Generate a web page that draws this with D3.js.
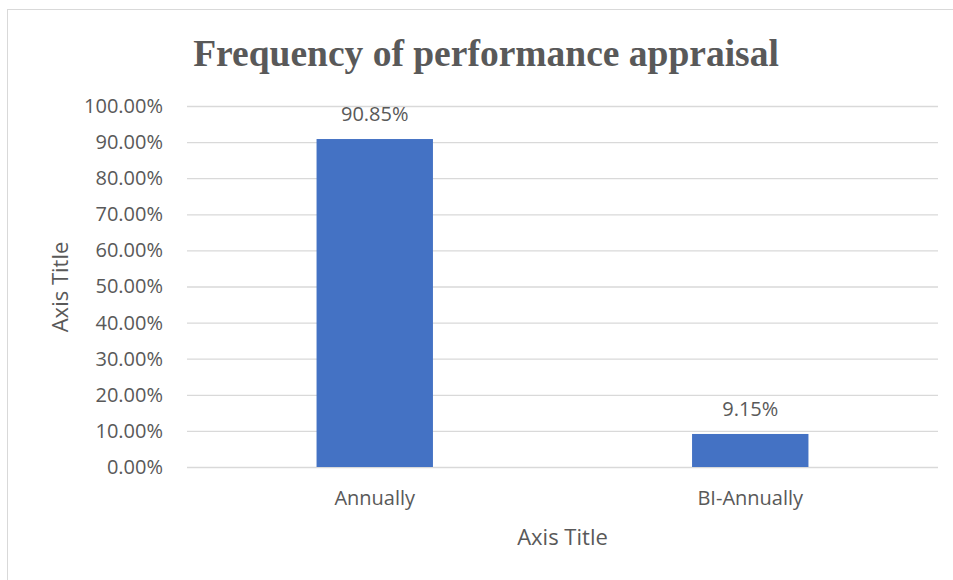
<!DOCTYPE html>
<html><head><meta charset="utf-8">
<script src="https://cdn.jsdelivr.net/npm/d3@7"></script>
<style>body{margin:0;background:#fff}svg{display:block}</style>
</head><body>
<script>
const categories = ["Annually", "BI-Annually"];
const values = [90.85, 9.15];
const yTicks = [0,10,20,30,40,50,60,70,80,90,100];
const title = "Frequency of performance appraisal";

const W = 953, H = 580;
const m = {left:187, right:15, top:106, bottom:113};
const svg = d3.select("body").append("svg").attr("width", W).attr("height", H);
svg.append("rect").attr("x",7.5).attr("y",9.5).attr("width",W).attr("height",H).attr("fill","#fff").attr("stroke","#d9d9d9");

const x = d3.scaleBand().domain(categories).range([m.left, W-m.right]).paddingInner(0.69).paddingOuter(0.345);
const y = d3.scaleLinear().domain([0,100]).range([H-m.bottom, m.top]);
const font = "'Open Sans', sans-serif";
const col = "#595959";
const fs = 20;

const ya = svg.append("g").attr("transform",`translate(${m.left},0)`)
  .call(d3.axisLeft(y).tickValues(yTicks).tickSize(-(W-m.right-m.left)).tickPadding(24).tickFormat(d=>d.toFixed(2)+"%"));
ya.select(".domain").remove();
ya.selectAll("line").attr("stroke","#d9d9d9").attr("stroke-width",1.3);
ya.selectAll("text").attr("font-family",font).attr("font-size",fs).attr("fill",col);

svg.selectAll("rect.bar").data(values).enter().append("rect").attr("class","bar")
  .attr("x",(d,i)=>x(categories[i])).attr("width",x.bandwidth())
  .attr("y",d=>y(d)).attr("height",d=>y(0)-y(d)).attr("fill","#4472C4");

svg.selectAll("text.lbl").data(values).enter().append("text").attr("class","lbl")
  .attr("x",(d,i)=>x(categories[i])+x.bandwidth()/2).attr("y",d=>y(d)-18)
  .attr("text-anchor","middle").attr("font-family",font).attr("font-size",fs).attr("fill",col)
  .text(d=>d.toFixed(2)+"%");

const xa = svg.append("g").attr("transform",`translate(0,${H-m.bottom})`)
  .call(d3.axisBottom(x).tickSize(0).tickPadding(0));
xa.select(".domain").remove();
xa.selectAll("text").attr("dy",null).attr("y",38).attr("font-family",font).attr("font-size",fs).attr("fill",col);

svg.append("text").attr("x",(m.left+W-m.right)/2).attr("y",545).attr("text-anchor","middle")
  .attr("font-family",font).attr("font-size",22).attr("fill",col).text("Axis Title");
svg.append("text").attr("transform","translate(68,287) rotate(-90)").attr("text-anchor","middle")
  .attr("font-family",font).attr("font-size",22).attr("fill",col).text("Axis Title");
svg.append("text").attr("x",486).attr("y",66).attr("text-anchor","middle")
  .attr("font-family","'Liberation Serif', serif").attr("font-weight","bold").attr("font-size",37.5).attr("fill",col).text(title);
</script>
</body></html>
